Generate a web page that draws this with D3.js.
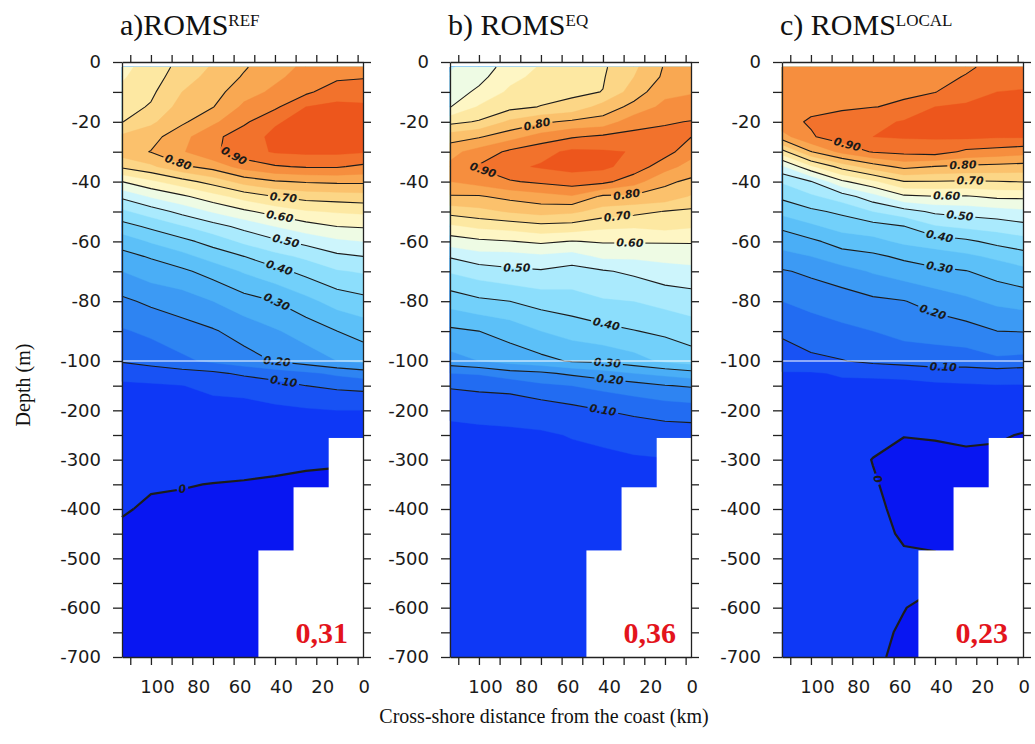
<!DOCTYPE html>
<html>
<head>
<meta charset="utf-8">
<script src="https://cdn.jsdelivr.net/npm/d3@7"></script>
<style>
  body { margin: 0; background: #fff; }
  svg { display: block; }
  .axis path, .axis line { stroke: #222; stroke-width: 1.3; }
  .axis text { font-family: "DejaVu Sans", sans-serif; font-size: 18px; fill: #1a1a1a; }
  .title { font-family: "Liberation Serif", serif; font-size: 30px; fill: #111; }
  .score { font-family: "Liberation Serif", serif; font-size: 30px; font-weight: bold; fill: #e3141c; }
  .clabel { font-family: "DejaVu Sans", sans-serif; font-size: 11px; font-weight: bold; font-style: italic; fill: #1a1a1a; }
  .axis-title { font-family: "Liberation Serif", serif; font-size: 20px; fill: #111; }
</style>
</head>
<body>
<svg id="Vis" width="1035" height="744"></svg>
<script>
/*
* DATA
*/

// grid columns: distance from the coast (km), grid rows: depth (m)
const distanceKm = [114, 100, 85, 70, 55, 40, 25, 10, -2.6];
const depthM = [-1.7, -5, -10, -15, -20, -25, -30, -35, -40, -45, -50, -55, -60, -65, -70, -80, -90, -100,
  -125, -150, -200, -250, -300, -350, -400, -450, -500, -550, -600, -650, -700];

// a) ROMS REF  (one row per depth, one value per distance)
const fieldRef = [
  [0.64, 0.665, 0.72, 0.755, 0.795, 0.83, 0.86, 0.875, 0.88],
  [0.645, 0.675, 0.73, 0.765, 0.805, 0.84, 0.87, 0.89, 0.895],
  [0.66, 0.69, 0.75, 0.78, 0.83, 0.86, 0.89, 0.93, 0.935],
  [0.68, 0.705, 0.77, 0.798, 0.86, 0.89, 0.95, 0.96, 0.955],
  [0.698, 0.74, 0.79, 0.84, 0.89, 0.945, 0.965, 0.97, 0.965],
  [0.76, 0.78, 0.835, 0.885, 0.93, 0.96, 0.97, 0.975, 0.97],
  [0.775, 0.802, 0.845, 0.89, 0.93, 0.955, 0.96, 0.96, 0.955],
  [0.71, 0.74, 0.79, 0.82, 0.87, 0.895, 0.905, 0.905, 0.89],
  [0.60, 0.64, 0.68, 0.72, 0.77, 0.795, 0.805, 0.81, 0.81],
  [0.51, 0.555, 0.59, 0.63, 0.67, 0.70, 0.72, 0.725, 0.73],
  [0.44, 0.475, 0.515, 0.555, 0.59, 0.62, 0.645, 0.655, 0.66],
  [0.38, 0.41, 0.445, 0.48, 0.515, 0.55, 0.58, 0.60, 0.605],
  [0.32, 0.355, 0.385, 0.42, 0.46, 0.49, 0.515, 0.54, 0.55],
  [0.285, 0.305, 0.335, 0.37, 0.40, 0.435, 0.46, 0.49, 0.50],
  [0.25, 0.275, 0.29, 0.32, 0.355, 0.385, 0.415, 0.445, 0.455],
  [0.19, 0.21, 0.225, 0.25, 0.28, 0.30, 0.335, 0.37, 0.385],
  [0.145, 0.16, 0.18, 0.195, 0.22, 0.245, 0.27, 0.30, 0.32],
  [0.105, 0.12, 0.14, 0.16, 0.18, 0.203, 0.225, 0.25, 0.265],
  [0.06, 0.07, 0.08, 0.09, 0.11, 0.125, 0.14, 0.16, 0.175],
  [0.045, 0.045, 0.049, 0.06, 0.065, 0.08, 0.10, 0.11, 0.115],
  [0.03, 0.025, 0.03, 0.035, 0.035, 0.04, 0.045, 0.05, 0.05],
  [0.02, 0.015, 0.018, 0.02, 0.022, 0.025, 0.025, 0.025, 0.025],
  [0.012, 0.007, 0.008, 0.01, 0.01, 0.01, 0.005, 0.003, 0.002],
  [0.006, 0.002, 0.001, -0.0005, -0.002, -0.005, -0.006, -0.006, -0.006],
  [0.002, -0.003, -0.004, -0.005, -0.006, -0.01, -0.01, -0.01, -0.01],
  [-0.004, -0.008, -0.008, -0.009, -0.01, -0.012, -0.012, -0.012, -0.012],
  [-0.01, -0.012, -0.012, -0.013, -0.014, -0.015, -0.015, -0.015, -0.015],
  [-0.014, -0.015, -0.016, -0.016, -0.017, -0.018, -0.018, -0.018, -0.018],
  [-0.018, -0.019, -0.02, -0.02, -0.02, -0.02, -0.02, -0.02, -0.02],
  [-0.022, -0.022, -0.023, -0.023, -0.023, -0.023, -0.023, -0.023, -0.023],
  [-0.025, -0.025, -0.025, -0.025, -0.025, -0.025, -0.025, -0.025, -0.025]
];

// b) ROMS EQ
const fieldEq = [
  [0.545, 0.575, 0.62, 0.655, 0.675, 0.693, 0.74, 0.805, 0.81],
  [0.555, 0.585, 0.635, 0.665, 0.68, 0.696, 0.75, 0.81, 0.82],
  [0.575, 0.61, 0.66, 0.68, 0.69, 0.701, 0.775, 0.835, 0.845],
  [0.598, 0.655, 0.685, 0.702, 0.715, 0.77, 0.815, 0.865, 0.875],
  [0.685, 0.705, 0.76, 0.79, 0.81, 0.82, 0.88, 0.895, 0.902],
  [0.775, 0.795, 0.83, 0.87, 0.895, 0.91, 0.915, 0.915, 0.901],
  [0.835, 0.87, 0.91, 0.935, 0.96, 0.955, 0.948, 0.92, 0.87],
  [0.86, 0.905, 0.94, 0.955, 0.965, 0.96, 0.93, 0.87, 0.83],
  [0.85, 0.87, 0.895, 0.91, 0.925, 0.915, 0.87, 0.81, 0.79],
  [0.795, 0.795, 0.815, 0.83, 0.845, 0.79, 0.79, 0.78, 0.745],
  [0.72, 0.735, 0.755, 0.77, 0.76, 0.73, 0.715, 0.698, 0.69],
  [0.64, 0.66, 0.67, 0.685, 0.68, 0.66, 0.655, 0.665, 0.655],
  [0.575, 0.59, 0.598, 0.61, 0.598, 0.605, 0.605, 0.605, 0.605],
  [0.505, 0.53, 0.53, 0.54, 0.53, 0.56, 0.56, 0.565, 0.57],
  [0.455, 0.475, 0.49, 0.495, 0.48, 0.495, 0.51, 0.53, 0.535],
  [0.37, 0.39, 0.40, 0.42, 0.43, 0.445, 0.45, 0.465, 0.475],
  [0.29, 0.30, 0.32, 0.35, 0.37, 0.385, 0.398, 0.41, 0.425],
  [0.23, 0.25, 0.27, 0.285, 0.305, 0.31, 0.33, 0.36, 0.375],
  [0.15, 0.155, 0.18, 0.19, 0.21, 0.23, 0.25, 0.265, 0.28],
  [0.105, 0.11, 0.115, 0.14, 0.15, 0.165, 0.18, 0.198, 0.205],
  [0.065, 0.07, 0.07, 0.07, 0.085, 0.10, 0.11, 0.12, 0.125],
  [0.03, 0.035, 0.04, 0.045, 0.052, 0.06, 0.07, 0.075, 0.075],
  [0.028, 0.03, 0.032, 0.035, 0.04, 0.04, 0.045, 0.048, 0.05],
  [0.026, 0.028, 0.03, 0.032, 0.036, 0.035, 0.04, 0.042, 0.045],
  [0.024, 0.026, 0.028, 0.03, 0.034, 0.032, 0.036, 0.038, 0.04],
  [0.022, 0.024, 0.026, 0.028, 0.032, 0.03, 0.034, 0.036, 0.038],
  [0.02, 0.022, 0.024, 0.026, 0.03, 0.028, 0.032, 0.034, 0.036],
  [0.019, 0.02, 0.022, 0.024, 0.028, 0.027, 0.03, 0.032, 0.034],
  [0.018, 0.019, 0.02, 0.022, 0.026, 0.026, 0.028, 0.03, 0.032],
  [0.017, 0.018, 0.019, 0.02, 0.024, 0.025, 0.026, 0.028, 0.03],
  [0.016, 0.017, 0.018, 0.019, 0.022, 0.024, 0.025, 0.026, 0.028]
];

// c) ROMS LOCAL
const fieldLocal = [
  [0.86, 0.865, 0.87, 0.875, 0.885, 0.885, 0.895, 0.91, 0.915],
  [0.865, 0.87, 0.875, 0.88, 0.89, 0.89, 0.902, 0.92, 0.925],
  [0.875, 0.88, 0.885, 0.89, 0.895, 0.898, 0.935, 0.95, 0.955],
  [0.885, 0.89, 0.895, 0.899, 0.905, 0.95, 0.955, 0.96, 0.965],
  [0.885, 0.905, 0.915, 0.935, 0.955, 0.96, 0.965, 0.97, 0.97],
  [0.83, 0.895, 0.925, 0.95, 0.955, 0.955, 0.96, 0.955, 0.955],
  [0.68, 0.798, 0.865, 0.905, 0.915, 0.925, 0.89, 0.88, 0.87],
  [0.54, 0.64, 0.72, 0.775, 0.815, 0.798, 0.79, 0.785, 0.78],
  [0.455, 0.498, 0.59, 0.64, 0.698, 0.698, 0.695, 0.698, 0.702],
  [0.41, 0.44, 0.475, 0.53, 0.59, 0.598, 0.595, 0.61, 0.61],
  [0.365, 0.39, 0.41, 0.45, 0.48, 0.51, 0.52, 0.53, 0.54],
  [0.31, 0.34, 0.37, 0.38, 0.398, 0.445, 0.46, 0.47, 0.485],
  [0.27, 0.29, 0.32, 0.335, 0.36, 0.375, 0.39, 0.415, 0.43],
  [0.235, 0.25, 0.28, 0.29, 0.31, 0.325, 0.34, 0.36, 0.38],
  [0.195, 0.21, 0.23, 0.255, 0.275, 0.29, 0.298, 0.32, 0.335],
  [0.15, 0.165, 0.175, 0.19, 0.198, 0.22, 0.24, 0.26, 0.27],
  [0.105, 0.125, 0.14, 0.15, 0.165, 0.17, 0.18, 0.20, 0.202],
  [0.085, 0.09, 0.098, 0.11, 0.12, 0.125, 0.125, 0.14, 0.135],
  [0.045, 0.045, 0.055, 0.06, 0.06, 0.075, 0.075, 0.075, 0.07],
  [0.035, 0.04, 0.04, 0.035, 0.04, 0.04, 0.045, 0.048, 0.048],
  [0.025, 0.028, 0.03, 0.03, 0.02, 0.02, 0.02, 0.02, 0.02],
  [0.02, 0.02, 0.022, 0.012, 0.001, 0.003, 0.007, 0.004, -0.002],
  [0.015, 0.016, 0.016, -0.001, -0.01, -0.01, -0.008, -0.008, -0.01],
  [0.012, 0.013, 0.013, 0.003, -0.012, -0.012, -0.012, -0.01, -0.01],
  [0.01, 0.011, 0.012, 0.008, -0.01, -0.012, -0.012, -0.01, -0.01],
  [0.009, 0.01, 0.011, 0.01, -0.004, -0.01, -0.01, -0.01, -0.01],
  [0.008, 0.009, 0.01, 0.01, 0.004, 0.004, -0.01, -0.01, -0.01],
  [0.008, 0.009, 0.01, 0.01, 0.004, 0.004, -0.01, -0.01, -0.01],
  [0.007, 0.008, 0.009, 0.01, 0.001, -0.01, -0.01, -0.01, -0.01],
  [0.007, 0.008, 0.009, 0.008, -0.004, -0.01, -0.01, -0.01, -0.01],
  [0.006, 0.007, 0.008, 0.006, -0.008, -0.01, -0.01, -0.01, -0.01]
];

// shelf (white) steps: seaward edge (km) and top depth (m)
const shelfKm = [14, 31, 48];
const shelfDepth = [-256, -356, -484];

const fillLevels = [0, 0.05, 0.1, 0.15, 0.2, 0.25, 0.3, 0.35, 0.4, 0.45,
  0.5, 0.55, 0.6, 0.65, 0.7, 0.75, 0.8, 0.85, 0.9, 0.95];
const lineLevels = [0, 0.1, 0.2, 0.3, 0.4, 0.5, 0.6, 0.7, 0.8, 0.9];

// contour label anchors (level, km, depth)
const labelsRef = [
  [0.9, 60, -31.7], [0.8, 87, -33.8], [0.7, 36, -45.8], [0.6, 37.7, -51.7], [0.5, 34.5, -59],
  [0.4, 37.7, -68.4], [0.3, 39, -80], [0.2, 39, -100.2], [0.1, 36, -148], [0, 85, -355]
];
const labelsEq = [
  [0.8, 72, -20.5], [0.9, 98, -36], [0.8, 28.5, -44], [0.7, 33, -52.3], [0.6, 27, -61],
  [0.5, 81.6, -68.4], [0.4, 38, -86.3], [0.3, 38, -108], [0.2, 36.7, -142], [0.1, 40, -199]
];
const labelsLocal = [
  [0.9, 82.8, -28.3], [0.8, 26.5, -34.4], [0.7, 23, -39.5], [0.6, 34.4, -44.5], [0.5, 28, -51.7],
  [0.4, 37.7, -57.9], [0.3, 37.7, -68.4], [0.2, 41, -83.5], [0.1, 36, -111], [0, 69, -341]
];

const titles = ["a)ROMS", "b) ROMS", "c) ROMS"];
const superscripts = ["REF", "EQ", "LOCAL"];
const scores = ["0,31", "0,36", "0,23"];

const xTicks = [110, 100, 90, 80, 70, 60, 50, 40, 30, 20, 10, 0];
const yTicks = [0, -10, -20, -30, -40, -50, -60, -70, -80, -90, -100,
  -150, -200, -250, -300, -350, -400, -450, -500, -550, -600, -650, -700];
const yLabelled = [0, -20, -40, -60, -80, -100, -200, -300, -400, -500, -600, -700];

/*
* SETUP
*/

const svg = d3.select("svg#Vis");
const defs = svg.append("defs");

// one colour per band: below 0, then every 0.05 up to >= 0.95
const bandColors = [
  "#0816f2", "#0e38f6", "#1852f4", "#226cf2", "#2e84f2", "#3c9af4", "#4aaef6",
  "#5cc0f8", "#72d0fa", "#8cdefc", "#aaeafd", "#cdf5fc", "#eefbe4", "#fef6c4",
  "#fde8a2", "#fcd686", "#fbc16c", "#f9a852", "#f68e3e", "#f2722c", "#ed561c"
];

const panels = [
  { key: "a", left: 122, field: fieldRef, labels: labelsRef },
  { key: "b", left: 450, field: fieldEq, labels: labelsEq },
  { key: "c", left: 782, field: fieldLocal, labels: labelsLocal }
];
const plotWidth = 241;

const y = d3.scaleLinear().domain([0, -100, -700]).range([62, 361, 657]);

panels.forEach((p, i) => drawPanel(p, i));

/* axis titles */
svg.append("text")
  .attr("class", "axis-title")
  .attr("transform", "translate(30,385) rotate(-90)")
  .attr("text-anchor", "middle")
  .text("Depth (m)");

svg.append("text")
  .attr("class", "axis-title")
  .attr("x", 544)
  .attr("y", 723)
  .attr("text-anchor", "middle")
  .text("Cross-shore distance from the coast (km)");


/*
* PANEL DRAWING
*/

function drawPanel(p, idx) {
  const right = p.left + plotWidth;
  const x = d3.scaleLinear().domain([114, -2.6]).range([p.left, right]);

  const colX = distanceKm.map(x);
  const rowY = depthM.map(y);
  const n = colX.length, m = rowY.length;
  const values = p.field.flat();

  const toPx = ([cx, cy]) => [along(colX, cx), along(rowY, cy)];

  const gp = svg.append("g").attr("id", "panel-" + p.key);

  /* filled bands */
  gp.append("rect")
    .attr("x", colX[0]).attr("y", rowY[0])
    .attr("width", colX[n - 1] - colX[0])
    .attr("height", rowY[m - 1] - rowY[0])
    .attr("fill", bandColors[0]);

  const bands = d3.contours().size([n, m]).thresholds(fillLevels)(values);
  const geo = d3.geoPath();
  gp.append("g").selectAll("path")
    .data(bands)
    .join("path")
      .attr("d", d => geo({
        type: "MultiPolygon",
        coordinates: d.coordinates.map(poly => poly.map(ring => ring.map(toPx)))
      }))
      .attr("fill", (d, i) => bandColors[i + 1])
      .attr("stroke", (d, i) => bandColors[i + 1])
      .attr("stroke-width", 0.4);

  /* contour lines, with gaps for the labels */
  const mask = defs.append("mask")
    .attr("id", "gap-" + p.key)
    .attr("maskUnits", "userSpaceOnUse")
    .attr("x", 0).attr("y", 0).attr("width", 1035).attr("height", 744);
  mask.append("rect").attr("width", 1035).attr("height", 744).attr("fill", "#fff");

  const linesByLevel = new Map();
  lineLevels.forEach(level => {
    linesByLevel.set(level, isolines(values, n, m, level, toPx));
  });

  const lineGen = d3.line();
  const gl = gp.append("g").attr("mask", "url(#gap-" + p.key + ")");
  lineLevels.forEach(level => {
    gl.append("g").selectAll("path")
      .data(linesByLevel.get(level))
      .join("path")
        .attr("d", lineGen)
        .attr("fill", "none")
        .attr("stroke", "#1c1c1c")
        .attr("stroke-width", level === 0 ? 2.2 : 1.1)
        .attr("stroke-linejoin", "round");
  });

  /* shelf */
  gp.append("g").selectAll("rect")
    .data(shelfKm)
    .join("rect")
      .attr("x", d => x(d))
      .attr("y", (d, i) => y(shelfDepth[i]))
      .attr("width", d => right - x(d))
      .attr("height", (d, i) => y(-700) - y(shelfDepth[i]))
      .attr("fill", "#fff");

  /* labels */
  const gLab = gp.append("g");
  p.labels.forEach(([level, km, depth]) => {
    const spot = nearestOnLines(linesByLevel.get(level), x(km), y(depth));
    if (!spot) return;
    const t = gLab.append("text")
      .attr("class", "clabel")
      .attr("text-anchor", "middle")
      .attr("dominant-baseline", "central")
      .attr("transform", `translate(${spot.x},${spot.y}) rotate(${spot.angle})`)
      .text(level === 0 ? "0" : d3.format(".2f")(level));
    const w = t.node().getComputedTextLength() + 4;
    mask.append("rect")
      .attr("x", -w / 2).attr("y", -6)
      .attr("width", w).attr("height", 12)
      .attr("fill", "#000")
      .attr("transform", `translate(${spot.x},${spot.y}) rotate(${spot.angle})`);
  });

  /* break line at -100 m */
  gp.append("line")
    .attr("x1", p.left).attr("x2", right)
    .attr("y1", y(-100)).attr("y2", y(-100))
    .attr("stroke", "#fff")
    .attr("stroke-width", 1.2);

  /* axes */
  gp.append("g")
    .attr("class", "axis")
    .attr("transform", translate(p.left, 0))
    .call(d3.axisLeft(y).tickValues(yTicks)
      .tickFormat(d => yLabelled.includes(d) ? String(d) : "")
      .tickSize(9).tickPadding(12).tickSizeOuter(0));

  gp.append("g")
    .attr("class", "axis")
    .attr("transform", translate(right, 0))
    .call(d3.axisRight(y).tickValues(yTicks).tickFormat("").tickSize(8).tickSizeOuter(0));

  gp.append("g")
    .attr("class", "axis")
    .attr("transform", translate(0, y(0)))
    .call(d3.axisTop(x).tickValues(xTicks).tickFormat("").tickSize(7).tickSizeOuter(0));

  const bottom = gp.append("g")
    .attr("class", "axis")
    .attr("transform", translate(0, y(-700)))
    .call(d3.axisBottom(x).tickValues(xTicks)
      .tickFormat(d => d % 20 === 0 ? String(d) : "")
      .tickSize(8).tickPadding(15).tickSizeOuter(0));
  bottom.selectAll("text").attr("dx", 6);

  /* title and score */
  const title = gp.append("text")
    .attr("class", "title")
    .attr("x", p.left - 2)
    .attr("y", 35)
    .text(titles[idx]);
  title.append("tspan")
    .attr("font-size", 17)
    .attr("dy", -9)
    .text(superscripts[idx]);

  gp.append("text")
    .attr("class", "score")
    .attr("x", right - 15)
    .attr("y", 643)
    .attr("text-anchor", "end")
    .text(scores[idx]);
}


/*
* CONTOUR HELPERS
*/

/* grid coordinate from d3.contours -> node index, then to pixels */
function nodeIndex(c, count) {
  return Math.max(0, Math.min(count - 1, c - 0.5));
}

function along(arr, c) {
  const u = nodeIndex(c, arr.length);
  const i = Math.min(arr.length - 2, Math.floor(u));
  return arr[i] + (arr[i + 1] - arr[i]) * (u - i);
}

/* outline of one level, without the parts running along the grid border */
function isolines(values, n, m, level, toPx) {
  const c = d3.contours().size([n, m]).thresholds([level])(values)[0];
  const lines = [];
  const onBorder = (a, b) => {
    const ax = nodeIndex(a[0], n), bx = nodeIndex(b[0], n);
    const ay = nodeIndex(a[1], m), by = nodeIndex(b[1], m);
    return (ax === 0 && bx === 0) || (ax === n - 1 && bx === n - 1) ||
      (ay === 0 && by === 0) || (ay === m - 1 && by === m - 1);
  };
  c.coordinates.forEach(poly => poly.forEach(ring => {
    let cur = [];
    for (let k = 0; k < ring.length - 1; k++) {
      const a = ring[k], b = ring[k + 1];
      if (onBorder(a, b)) {
        if (cur.length > 1) lines.push(cur);
        cur = [];
        continue;
      }
      if (!cur.length) cur.push(toPx(a));
      cur.push(toPx(b));
    }
    if (cur.length > 1) lines.push(cur);
  }));
  return lines;
}

function nearestOnLines(lines, px, py) {
  let best = null;
  lines.forEach(line => {
    for (let k = 0; k < line.length - 1; k++) {
      const [ax, ay] = line[k], [bx, by] = line[k + 1];
      const dx = bx - ax, dy = by - ay;
      const len2 = dx * dx + dy * dy || 1;
      const t = Math.max(0, Math.min(1, ((px - ax) * dx + (py - ay) * dy) / len2));
      const qx = ax + t * dx, qy = ay + t * dy;
      const dist = (qx - px) ** 2 + (qy - py) ** 2;
      if (!best || dist < best.dist) {
        const p0 = line[Math.max(0, k - 1)], p1 = line[Math.min(line.length - 1, k + 2)];
        let angle = Math.atan2(p1[1] - p0[1], p1[0] - p0[0]) * 180 / Math.PI;
        if (angle > 90) angle -= 180;
        if (angle < -90) angle += 180;
        best = { dist, x: qx, y: qy, angle };
      }
    }
  });
  return best;
}

function translate(x, y) {
  return 'translate(' + String(x) + ',' + String(y) + ')';
}
</script>
</body>
</html>
